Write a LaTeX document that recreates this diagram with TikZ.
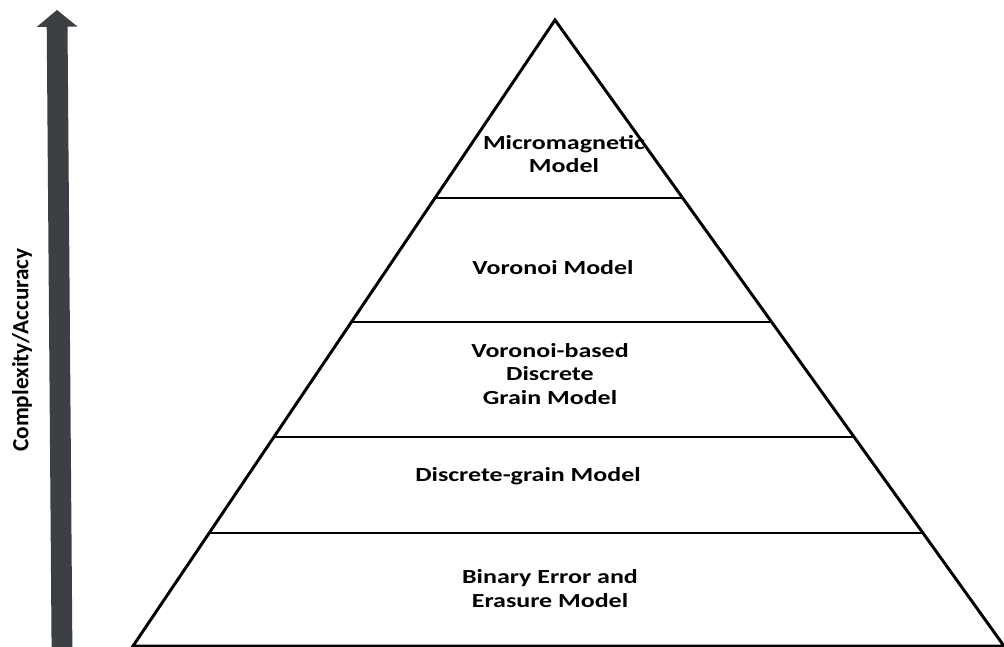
\documentclass[tikz,border=0pt]{standalone}
\usepackage{fontspec}
\setmainfont{Carlito}
\usetikzlibrary{calc,arrows.meta}
\definecolor{arrowgray}{HTML}{3C3F44}

\begin{document}
\begin{tikzpicture}[x=0.025cm,y=-0.025cm,
  lvl/.style={font=\fontsize{14.2}{17}\selectfont\bfseries, align=center, xscale=1.3},
  edge/.style={line width=2.1pt, line join=miter},
  cut/.style={line width=1.4pt},
  axisarrow/.style={arrowgray, line width=0.52cm, -{Triangle[length=0.42cm,width=1cm]}}]
\useasboundingbox (0,0) rectangle (1004,646);
% pyramid
\coordinate (top) at (555,20);
\coordinate (bl) at (133,646);
\coordinate (br) at (1004,646);
\draw[edge] (bl)--(top)--(br)--cycle;
\foreach \t in {0.2843,0.4824,0.6661,0.8195}
  \draw[cut] ($(top)!\t!(bl)$)--($(top)!\t!(br)$);
% levels
\node[lvl] (micro) at (564,154) {Micromagnetic\\Model};
\node[lvl] (voro) at (553,268) {Voronoi Model};
\node[lvl] (vbdg) at (550,374) {Voronoi-based\\Discrete\\Grain Model};
\node[lvl] (dg) at (528,476) {Discrete-grain Model};
\node[lvl] (beem) at (550,589) {Binary Error and\\Erasure Model};
% complexity axis
\coordinate (abot) at (62,650);
\coordinate (atop) at (57,10);
\draw[axisarrow] (abot)--(atop);
\node[rotate=90, font=\fontsize{16.5}{19}\selectfont\bfseries] (axis) at (22,350) {Complexity/Accuracy};
\end{tikzpicture}
\end{document}
